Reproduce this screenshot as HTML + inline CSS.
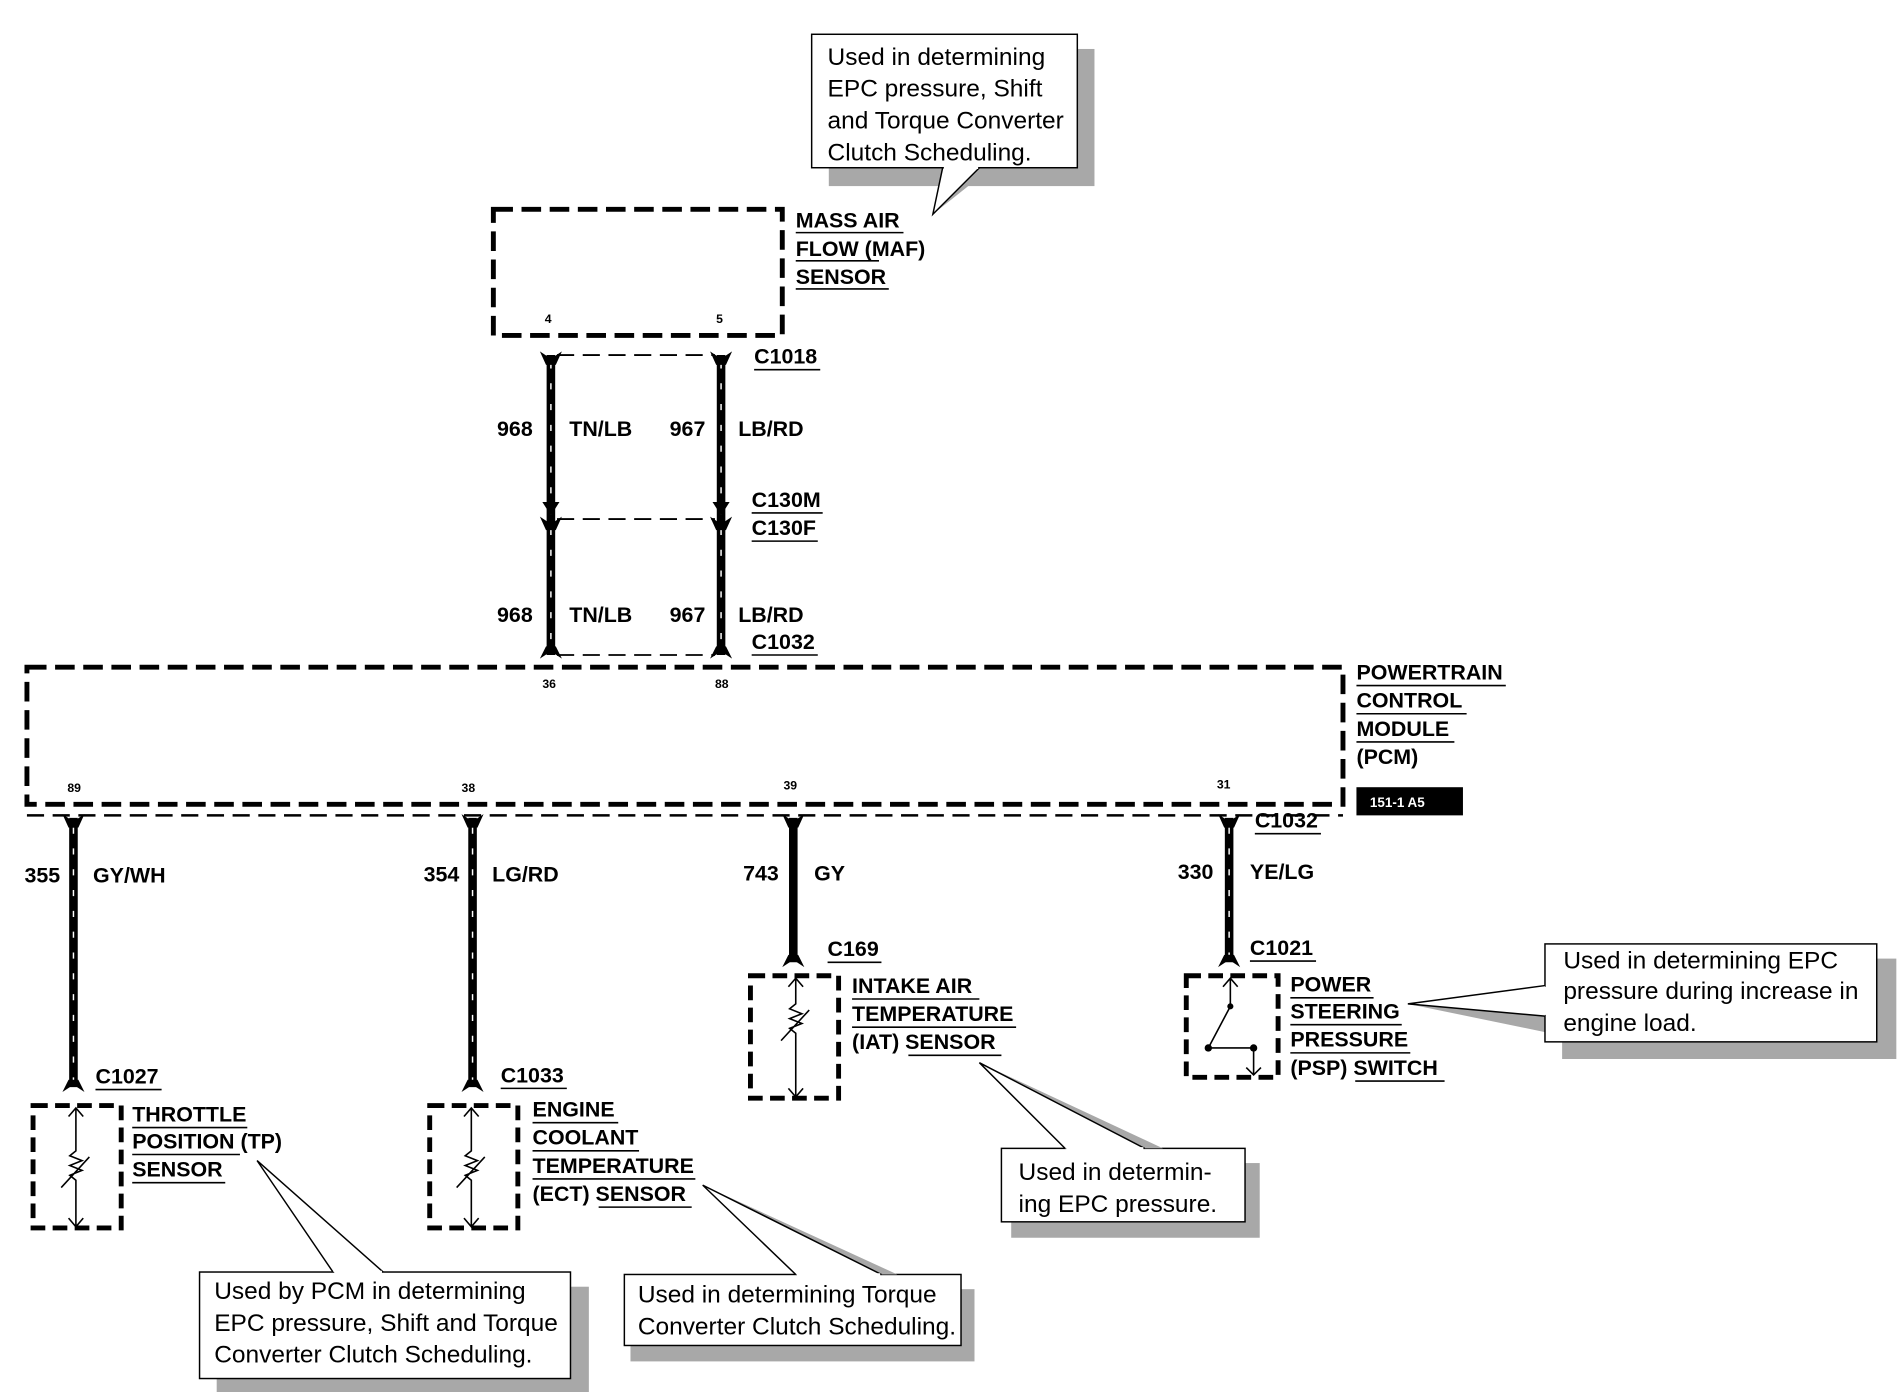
<!DOCTYPE html>
<html><head><meta charset="utf-8"><style>
html,body{margin:0;padding:0;background:#fff;}
svg{display:block;}
text{font-family:"Liberation Sans",sans-serif;fill:#000;}
.b{font-weight:bold;font-size:17.5px;}
.n{font-size:20px;}
.p{font-weight:bold;font-size:10px;}
.u{stroke:#000;stroke-width:1.3;}
.box{fill:none;stroke:#000;stroke-width:4;stroke-dasharray:16 7;}
.w{stroke:#000;stroke-width:7;}
.ws{stroke:#fff;stroke-width:1.2;stroke-dasharray:5 12;}
.thin{stroke:#000;stroke-width:1.5;stroke-dasharray:14 7;fill:none;}
.cb{fill:#fff;stroke:#000;stroke-width:1.2;}
.sh{fill:#a8a8a8;}
</style></head><body>
<svg width="1900" height="1392" viewBox="0 0 1552 1137" preserveAspectRatio="none" xmlns="http://www.w3.org/2000/svg">
<!-- top callout -->
<rect class="sh" x="677" y="40" width="217" height="112"/>
<polygon points="772,140 806,140 762,175" fill="#a8a8a8"/>
<rect class="cb" x="663" y="28" width="217" height="109"/>
<polygon points="770,137 800,137 762,175" fill="#fff" stroke="#000" stroke-width="1.2"/>
<line x1="771" y1="137" x2="799" y2="137" stroke="#fff" stroke-width="2"/>
<text class="n" x="676" y="53">Used in determining</text>
<text class="n" x="676" y="79">EPC pressure, Shift</text>
<text class="n" x="676" y="105">and Torque Converter</text>
<text class="n" x="676" y="131">Clutch Scheduling.</text>

<!-- MAF -->
<rect class="box" x="403" y="171" width="236" height="103"/>
<text class="p" x="445" y="264">4</text><text class="p" x="585" y="264">5</text>
<text class="b" x="650" y="186">MASS AIR</text><line class="u" x1="650" y1="190" x2="738" y2="190"/>
<text class="b" x="650" y="209">FLOW (MAF)</text><line class="u" x1="650" y1="213" x2="718" y2="213"/>
<text class="b" x="650" y="232">SENSOR</text><line class="u" x1="650" y1="236" x2="726" y2="236"/>

<!-- upper wires -->
<g>
<line class="w" x1="450" y1="290" x2="450" y2="535"/><line class="w" x1="589" y1="290" x2="589" y2="535"/>
<line class="ws" x1="450" y1="296" x2="450" y2="530"/><line class="ws" x1="589" y1="296" x2="589" y2="530"/>
<line class="thin" x1="455" y1="290" x2="584" y2="290"/>
<line class="thin" x1="455" y1="424" x2="584" y2="424"/>
<line class="thin" x1="455" y1="535" x2="584" y2="535"/>
<g fill="#000">
<polygon points="441,287 450,293 459,287 454,298 446,298"/>
<polygon points="580,287 589,293 598,287 593,298 585,298"/>
<polygon points="443,410 457,410 450,421"/><polygon points="582,410 596,410 589,421"/>
<polygon points="441,422 450,428 459,422 454,433 446,433"/>
<polygon points="580,422 589,428 598,422 593,433 585,433"/>
<polygon points="441,538 450,532 459,538 454,528 446,528"/>
<polygon points="580,538 589,532 598,538 593,528 585,528"/>
</g>
</g>
<text class="b" x="406" y="356">968</text><text class="b" x="465" y="356">TN/LB</text>
<text class="b" x="547" y="356">967</text><text class="b" x="603" y="356">LB/RD</text>
<text class="b" x="406" y="508">968</text><text class="b" x="465" y="508">TN/LB</text>
<text class="b" x="547" y="508">967</text><text class="b" x="603" y="508">LB/RD</text>
<text class="b" x="616" y="297">C1018</text><line class="u" x1="616" y1="302" x2="670" y2="302"/>
<text class="b" x="614" y="414">C130M</text><line class="u" x1="614" y1="419" x2="672" y2="419"/>
<text class="b" x="614" y="437">C130F</text><line class="u" x1="614" y1="442" x2="668" y2="442"/>
<text class="b" x="614" y="530">C1032</text><line class="u" x1="614" y1="535" x2="668" y2="535"/>

<!-- PCM -->
<rect class="box" x="22" y="545" width="1075" height="112"/>
<line class="thin" x1="22" y1="666" x2="1097" y2="666" style="stroke-width:2"/>
<text class="p" x="443" y="562">36</text><text class="p" x="584" y="562">88</text>
<text class="p" x="55" y="647">89</text><text class="p" x="377" y="647">38</text>
<text class="p" x="640" y="645">39</text><text class="p" x="994" y="644">31</text>
<text class="b" x="1108" y="555">POWERTRAIN</text><line class="u" x1="1108" y1="560" x2="1230" y2="560"/>
<text class="b" x="1108" y="578">CONTROL</text><line class="u" x1="1108" y1="583" x2="1198" y2="583"/>
<text class="b" x="1108" y="601">MODULE</text><line class="u" x1="1108" y1="606" x2="1188" y2="606"/>
<text class="b" x="1108" y="624">(PCM)</text>
<rect x="1108" y="643" width="87" height="23" fill="#000"/>
<text x="1119" y="659" style="fill:#fff;font-size:11px;font-weight:bold">151-1 A5</text>

<!-- lower wires -->
<g>
<line class="w" x1="60" y1="668" x2="60" y2="888"/><line class="ws" x1="60" y1="676" x2="60" y2="884"/>
<line class="w" x1="386" y1="668" x2="386" y2="888"/><line class="ws" x1="386" y1="676" x2="386" y2="884"/>
<line class="w" x1="648" y1="668" x2="648" y2="786"/>
<line class="w" x1="1004" y1="668" x2="1004" y2="786"/><line class="ws" x1="1004" y1="676" x2="1004" y2="780"/>
<g fill="#000">
<polygon points="51,665 60,671 69,665 64,676 56,676"/>
<polygon points="377,665 386,671 395,665 390,676 382,676"/>
<polygon points="639,665 648,671 657,665 652,676 644,676"/>
<polygon points="995,665 1004,671 1013,665 1008,676 1000,676"/>
<polygon points="51,892 60,886 69,892 64,882 56,882"/>
<polygon points="377,892 386,886 395,892 390,882 382,882"/>
<polygon points="639,790 648,784 657,790 652,780 644,780"/>
<polygon points="995,790 1004,784 1013,790 1008,780 1000,780"/>
</g>
</g>
<text class="b" x="20" y="721">355</text><text class="b" x="76" y="721">GY/WH</text>
<text class="b" x="346" y="720">354</text><text class="b" x="402" y="720">LG/RD</text>
<text class="b" x="607" y="719">743</text><text class="b" x="665" y="719">GY</text>
<text class="b" x="962" y="718">330</text><text class="b" x="1021" y="718">YE/LG</text>
<text class="b" x="1025" y="676">C1032</text><line class="u" x1="1025" y1="681" x2="1079" y2="681"/>
<text class="b" x="676" y="781">C169</text><line class="u" x1="676" y1="786" x2="720" y2="786"/>
<text class="b" x="1021" y="780">C1021</text><line class="u" x1="1021" y1="785" x2="1075" y2="785"/>
<text class="b" x="78" y="885">C1027</text><line class="u" x1="78" y1="890" x2="132" y2="890"/>
<text class="b" x="409" y="884">C1033</text><line class="u" x1="409" y1="889" x2="463" y2="889"/>

<!-- sensor boxes -->
<g>
<rect class="box" x="27" y="903" width="72" height="100" style="stroke-dasharray:12 6"/>
<rect class="box" x="351" y="903" width="72" height="100" style="stroke-dasharray:12 6"/>
<rect class="box" x="613" y="797" width="72" height="100" style="stroke-dasharray:12 6"/>
<rect class="box" x="969" y="797" width="75" height="83" style="stroke-dasharray:12 6"/>
</g>
<g stroke="#000" stroke-width="1.3" fill="none">
<path d="M62,905 V940 l-5,4 10,4 -10,4 10,4 -10,4 5,4 V1001 M56,912 l6,-7 6,7 M56,995 l6,7 6,-7 M50,970 L73,945"/>
<path d="M385,905 V940 l-5,4 10,4 -10,4 10,4 -10,4 5,4 V1001 M379,912 l6,-7 6,7 M379,995 l6,7 6,-7 M373,970 L396,945"/>
<path d="M650,799 V820 l-5,4 10,4 -10,4 10,4 -10,4 5,4 V895 M644,806 l6,-7 6,7 M644,889 l6,7 6,-7 M638,850 L661,825"/>
<path d="M1005,799 V820 M999,806 l6,-7 6,7 M1005,822 L987,856 M987,856 H1024 M1024,856 V878 M1018,872 l6,6 6,-6"/>
</g>
<circle cx="1005" cy="822" r="2.5"/><circle cx="987" cy="856" r="3"/><circle cx="1024" cy="856" r="3"/>

<!-- sensor labels -->
<text class="b" x="108" y="916">THROTTLE</text><line class="u" x1="108" y1="921" x2="202" y2="921"/>
<text class="b" x="108" y="938">POSITION (TP)</text><line class="u" x1="108" y1="943" x2="196" y2="943"/>
<text class="b" x="108" y="961">SENSOR</text><line class="u" x1="108" y1="966" x2="184" y2="966"/>
<text class="b" x="435" y="912">ENGINE</text><line class="u" x1="435" y1="917" x2="505" y2="917"/>
<text class="b" x="435" y="935">COOLANT</text><line class="u" x1="435" y1="940" x2="522" y2="940"/>
<text class="b" x="435" y="958">TEMPERATURE</text><line class="u" x1="435" y1="963" x2="568" y2="963"/>
<text class="b" x="435" y="981">(ECT) SENSOR</text><line class="u" x1="489" y1="986" x2="565" y2="986"/>
<text class="b" x="696" y="811">INTAKE AIR</text><line class="u" x1="696" y1="816" x2="800" y2="816"/>
<text class="b" x="696" y="834">TEMPERATURE</text><line class="u" x1="696" y1="839" x2="830" y2="839"/>
<text class="b" x="696" y="857">(IAT) SENSOR</text><line class="u" x1="742" y1="862" x2="818" y2="862"/>
<text class="b" x="1054" y="810">POWER</text><line class="u" x1="1054" y1="815" x2="1122" y2="815"/>
<text class="b" x="1054" y="832">STEERING</text><line class="u" x1="1054" y1="837" x2="1145" y2="837"/>
<text class="b" x="1054" y="855">PRESSURE</text><line class="u" x1="1054" y1="860" x2="1152" y2="860"/>
<text class="b" x="1054" y="878">(PSP) SWITCH</text><line class="u" x1="1107" y1="883" x2="1180" y2="883"/>

<!-- TP callout -->
<rect class="sh" x="177" y="1051" width="304" height="88"/>
<rect class="cb" x="163" y="1039" width="303" height="87"/>
<polyline points="272,1039 210,948 313,1039" fill="#fff" stroke="#000" stroke-width="1.2"/>
<line x1="273" y1="1039" x2="312" y2="1039" stroke="#fff" stroke-width="2"/>
<text class="n" x="175" y="1061">Used by PCM in determining</text>
<text class="n" x="175" y="1087">EPC pressure, Shift and Torque</text>
<text class="n" x="175" y="1113">Converter Clutch Scheduling.</text>
<!-- ECT callout -->
<rect class="sh" x="515" y="1053" width="281" height="59"/>
<rect class="cb" x="510" y="1041" width="275" height="58"/>
<polygon points="574,968 733,1041 720,1041" fill="#a8a8a8"/>
<polyline points="650,1041 574,968 720,1041" fill="#fff" stroke="#000" stroke-width="1.2"/>
<line x1="651" y1="1041" x2="719" y2="1041" stroke="#fff" stroke-width="2"/>
<text class="n" x="521" y="1064">Used in determining Torque</text>
<text class="n" x="521" y="1090">Converter Clutch Scheduling.</text>
<!-- IAT callout -->
<rect class="sh" x="826" y="950" width="203" height="61"/>
<rect class="cb" x="818" y="938" width="199" height="60"/>
<polygon points="800,868 950,938 935,938" fill="#a8a8a8"/>
<polyline points="870,938 800,868 935,938" fill="#fff" stroke="#000" stroke-width="1.2"/>
<line x1="871" y1="938" x2="934" y2="938" stroke="#fff" stroke-width="2"/>
<text class="n" x="832" y="964">Used in determin-</text>
<text class="n" x="832" y="990">ing EPC pressure.</text>
<!-- PSP callout -->
<rect class="sh" x="1276" y="783" width="273" height="82"/>
<polygon points="1150,820 1262,830 1262,843" fill="#a8a8a8"/>
<rect class="cb" x="1262" y="771" width="271" height="80"/>
<polyline points="1262,805 1150,820 1262,830" fill="#fff" stroke="#000" stroke-width="1.2"/>
<line x1="1262" y1="806" x2="1262" y2="829" stroke="#fff" stroke-width="2"/>
<text class="n" x="1277" y="791">Used in determining EPC</text>
<text class="n" x="1277" y="816">pressure during increase in</text>
<text class="n" x="1277" y="842">engine load.</text>
</svg>
</body></html>
